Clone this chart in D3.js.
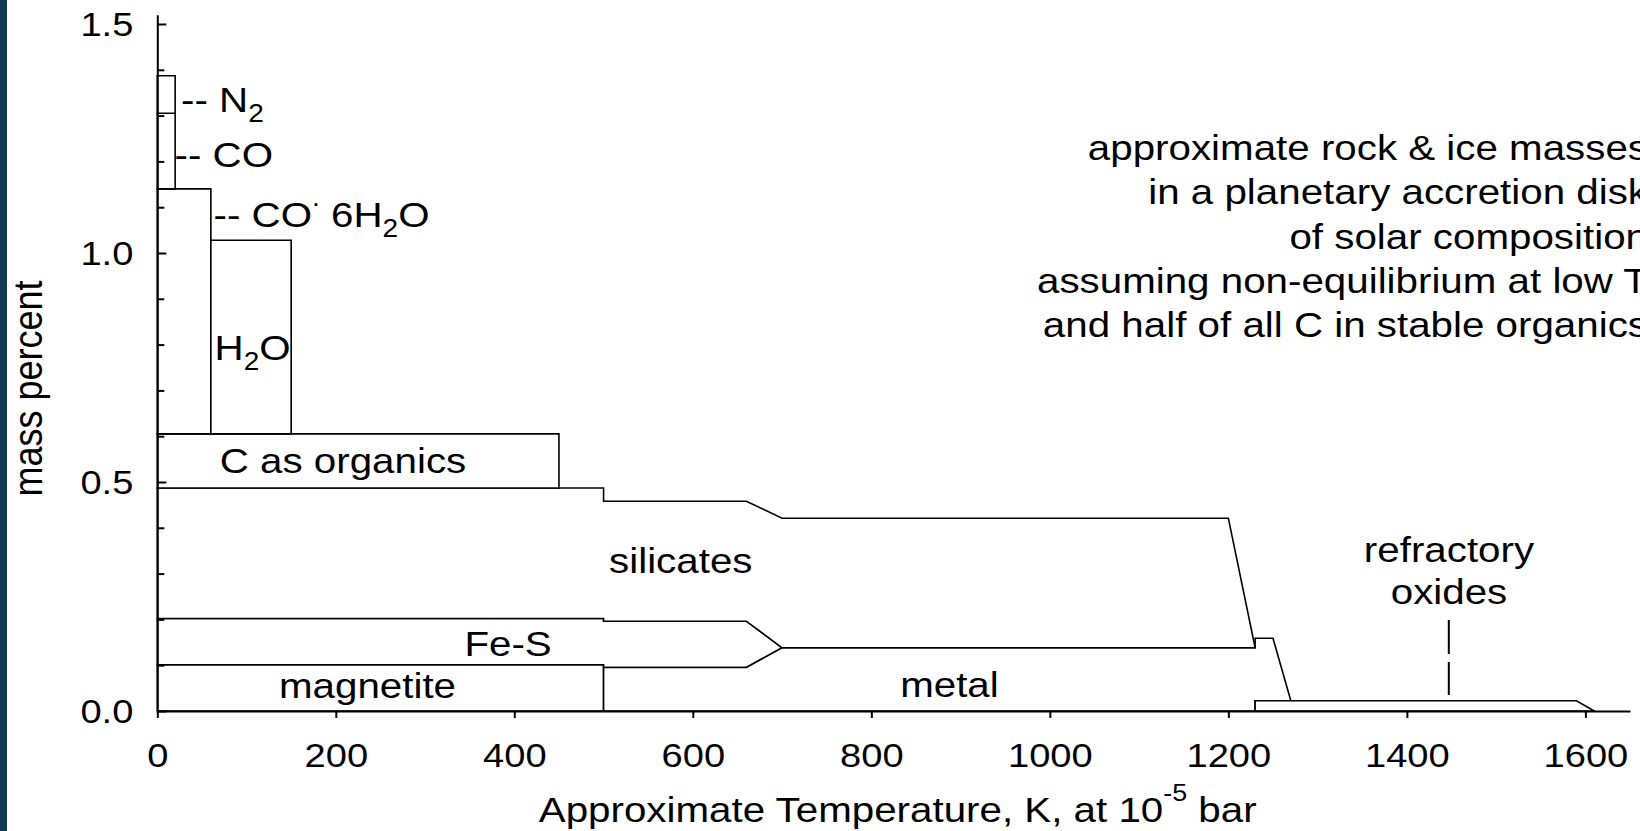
<!DOCTYPE html>
<html>
<head>
<meta charset="utf-8">
<script src="https://cdn.jsdelivr.net/npm/d3@7"></script>
<style>
  html, body { margin: 0; padding: 0; background: #fff; }
  svg { display: block; font-family: "Liberation Sans", Arial, sans-serif; }
</style>
</head>
<body>
<svg id="chart" width="1640" height="831"></svg>
<script>
// Condensed-phase fields, outlined as [temperature K, cumulative mass percent]
const magnetite = [[0, 0], [500, 0], [500, 0.101], [0, 0.101]];
const ironSulfide = [[0, 0.101], [500, 0.101], [500, 0.095], [660, 0.095], [700, 0.138],
                     [660, 0.196], [500, 0.196], [500, 0.202], [0, 0.202]];
const metal = [[500, 0], [1230, 0], [1230, 0.0225], [1270, 0.0225], [1250, 0.159],
               [1230, 0.159], [1230, 0.138], [700, 0.138], [660, 0.095], [500, 0.095]];
const refractoryOxides = [[1230, 0], [1610, 0], [1590, 0.0225], [1230, 0.0225]];
const silicates = [[0, 0.202], [500, 0.202], [500, 0.196], [660, 0.196], [700, 0.138],
                   [1230, 0.138], [1200, 0.421], [700, 0.421], [660, 0.458], [500, 0.458],
                   [500, 0.487], [0, 0.487]];
const organics = [[0, 0.487], [450, 0.487], [450, 0.605], [0, 0.605]];
const coClathrate = [[0, 0.605], [60, 0.605], [60, 1.14], [0, 1.14]];
const waterIce = [[60, 0.605], [150, 0.605], [150, 1.028], [60, 1.028]];
const coIce = [[0, 1.14], [20, 1.14], [20, 1.305], [0, 1.305]];
const nitrogenIce = [[0, 1.305], [20, 1.305], [20, 1.387], [0, 1.387]];

const fields = [magnetite, ironSulfide, metal, refractoryOxides, silicates,
                organics, coClathrate, waterIce, coIce, nitrogenIce];

// Axis ticks
const xTicks = [0, 200, 400, 600, 800, 1000, 1200, 1400, 1600];
const yMajorTicks = [0, 0.5, 1.0, 1.5];
const yMinorTicks = [0.1, 0.2, 0.3, 0.4, 0.6, 0.7, 0.8, 0.9, 1.1, 1.2, 1.3, 1.4];

// Field labels, anchored at [temperature, mass percent]
const fieldLabels = [
  { parts: [{ t: "-- N" }, { t: "2", sub: true }], at: [26.6, 1.3085], anchor: "start" },
  { parts: [{ t: "-- CO" }], at: [19.3, 1.188], anchor: "start" },
  { parts: [{ t: "-- CO" }, { t: ".", sup: true }, { t: " 6H" }, { t: "2", sub: true }, { t: "O" }],
    at: [63.0, 1.057], anchor: "start" },
  { parts: [{ t: "H" }, { t: "2", sub: true }, { t: "O" }], at: [106.8, 0.766], anchor: "middle" },
  { parts: [{ t: "C as organics" }], at: [208, 0.5203], anchor: "middle" },
  { parts: [{ t: "silicates" }], at: [586.5, 0.3007], anchor: "middle" },
  { parts: [{ t: "Fe-S" }], at: [393, 0.120], anchor: "middle" },
  { parts: [{ t: "magnetite" }], at: [235.5, 0.0277], anchor: "middle" },
  { parts: [{ t: "metal" }], at: [887.5, 0.0295], anchor: "middle" },
  { parts: [{ t: "refractory" }], at: [1447.2, 0.326], anchor: "middle" },
  { parts: [{ t: "oxides" }], at: [1447.2, 0.2336], anchor: "middle" }
];
// Leader from the "refractory oxides" label down to its thin band
const oxideLeader = { k: 1447, from: 0.035, to: 0.1987 };

const noteLines = [
  "approximate rock & ice masses",
  "in a planetary accretion disk",
  "of solar composition",
  "assuming non-equilibrium at low T",
  "and half of all C in stable organics"
];

// ---- layout ----
const SX = 1.12;          // horizontal text stretch
const svg = d3.select("#chart");
const margin = { left: 157.3, right: 10, top: 14.8, bottom: 120 };
const x = d3.scaleLinear().domain([0, 1650]).range([157.3, 1630]);
const y = d3.scaleLinear().domain([0, 1.52]).range([711, 711 - 1.52 * 458]);

svg.append("rect").attr("x", 0).attr("y", 0).attr("width", 1640).attr("height", 831).attr("fill", "#fff");
svg.append("rect").attr("x", 0).attr("y", 0).attr("width", 7).attr("height", 831).attr("fill", "#113a51");

// ---- fields ----
const line = d3.line().x(d => x(d[0])).y(d => y(d[1]));
svg.append("g").selectAll("path").data(fields).join("path")
  .attr("d", d => line(d) + "Z")
  .attr("fill", "#fff")
  .attr("stroke", "#000")
  .attr("stroke-width", 1.6)
  .attr("stroke-linejoin", "miter");

// ---- text helper with sub/superscripts ----
function richText(g, parts, tx, ty, size, anchor, rotate) {
  const t = g.append("text")
    .attr("transform", `translate(${tx},${ty}) scale(${SX},1)` + (rotate ? ` rotate(${rotate})` : ""))
    .attr("text-anchor", anchor)
    .attr("font-size", size)
    .attr("fill", "#000");
  let shift = 0;
  parts.forEach(p => {
    const target = p.sub ? 10 : p.sup ? -21 : 0;
    const s = t.append("tspan").text(p.t).attr("dy", target - shift);
    if (p.sub || p.sup) s.attr("font-size", 25);
    shift = target;
  });
  return t;
}

const labels = svg.append("g");
fieldLabels.forEach(l => richText(labels, l.parts, x(l.at[0]), y(l.at[1]), 36, l.anchor));

svg.append("line")
  .attr("x1", x(oxideLeader.k)).attr("x2", x(oxideLeader.k))
  .attr("y1", y(oxideLeader.to)).attr("y2", y(oxideLeader.from))
  .attr("stroke", "#000").attr("stroke-width", 2)
  .attr("stroke-dasharray", "34 8");

// ---- axes ----
const xAxis = svg.append("g").attr("transform", `translate(0,${y(0)})`)
  .call(d3.axisBottom(x).tickValues(xTicks).tickSizeInner(7).tickSizeOuter(0).tickPadding(25)
    .tickFormat(d3.format("d")));
const yMinor = svg.append("g").attr("transform", `translate(${x(0)},0)`)
  .call(d3.axisLeft(y).tickValues(yMinorTicks).tickSizeInner(-7).tickSizeOuter(0).tickFormat(""));
const yAxis = svg.append("g").attr("transform", `translate(${x(0)},0)`)
  .call(d3.axisLeft(y).tickValues(yMajorTicks).tickSizeInner(-9).tickSizeOuter(0).tickPadding(24)
    .tickFormat(d3.format(".1f")));

[xAxis, yAxis, yMinor].forEach(a => {
  a.attr("font-family", null).attr("font-size", null);
  a.select(".domain").attr("stroke", "#000").attr("stroke-width", 2);
  a.selectAll(".tick line").attr("stroke", "#000").attr("stroke-width", 2);
  a.selectAll(".tick text").attr("fill", "#000").attr("font-size", 34);
});
yMinor.select(".domain").remove();
xAxis.selectAll(".tick text").attr("transform", `scale(${SX},1)`);
yAxis.selectAll(".tick text").attr("x", -24 / SX).attr("dy", "0.35em").attr("transform", `scale(${SX},1)`);

// ---- axis titles ----
richText(svg, [{ t: "Approximate Temperature, K, at 10" }, { t: "-5", sup: true }, { t: " bar" }],
  897.7, 821.5, 36, "middle").selectAll("tspan").filter(function () { return this.textContent === "-5"; })
  .attr("font-size", 24);
richText(svg, [{ t: "mass percent" }], 42, 388.5, 36, "middle", -90);

// ---- note ----
const note = svg.append("g");
noteLines.forEach((s, i) => richText(note, [{ t: s }], 1648, 160 + i * 44.3, 36, "end"));
</script>
</body>
</html>
